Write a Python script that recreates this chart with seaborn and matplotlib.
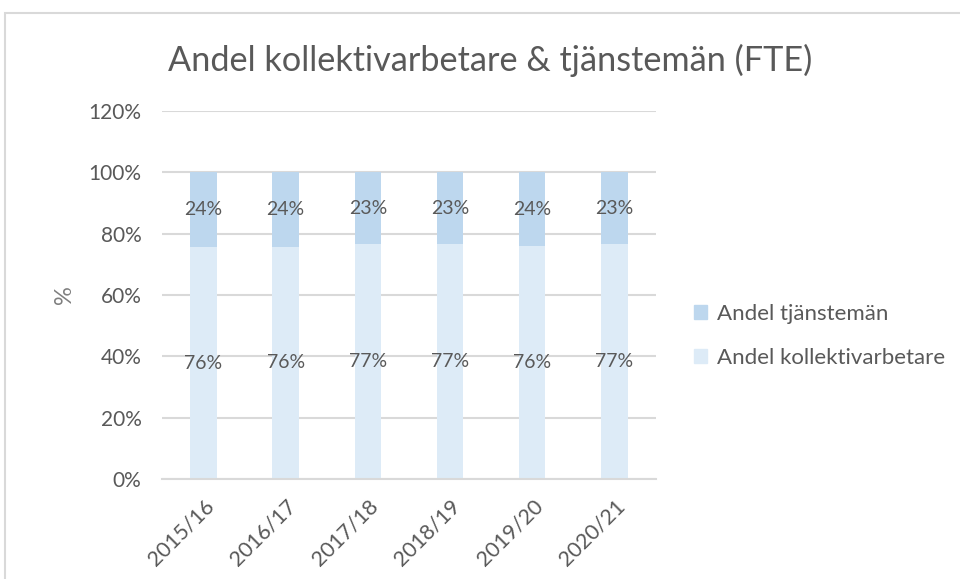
import matplotlib
matplotlib.use("Agg")
import matplotlib.pyplot as plt
from matplotlib.patches import Rectangle, Patch
import pandas as pd
import seaborn as sns

# data
years = ['2015/16', '2016/17', '2017/18', '2018/19', '2019/20', '2020/21']
kollektiv = [75.6, 75.8, 76.6, 76.7, 75.9, 76.6]   # Andel kollektivarbetare
tjansteman = [24.4, 24.2, 23.4, 23.3, 24.1, 23.4]  # Andel tjänstemän

col_tj = '#BDD7EE'
col_ko = '#DDEBF7'
txt = '#595959'
grid = '#D9D9D9'

sns.set_theme(style='white')
plt.rcParams['font.family'] = ['Lato', 'DejaVu Sans']

df = pd.DataFrame({'year': years, 'kollektiv': kollektiv, 'tjansteman': tjansteman})
df['total'] = df['kollektiv'] + df['tjansteman']

fig = plt.figure(figsize=(9.6, 5.79), dpi=100)
ax = fig.add_axes([0.169, 0.1727, 0.514, 0.6356])

# outer chart frame
fig.patches.append(Rectangle((5 / 960, -0.1), 1.2, 1 - 13 / 579 + 0.1, transform=fig.transFigure,
                             fill=False, edgecolor=grid, lw=1.5))

sns.barplot(data=df, x='year', y='total', color=col_tj, width=0.32, saturation=1,
            linewidth=0, ax=ax, zorder=2)
sns.barplot(data=df, x='year', y='kollektiv', color=col_ko, width=0.32, saturation=1,
            linewidth=0, ax=ax, zorder=2)

for i, (lo, hi) in enumerate(zip(kollektiv, tjansteman)):
    ax.text(i, lo / 2, f'{round(lo):.0f}%', ha='center', va='center', color=txt, fontsize=14, zorder=3)
    ax.text(i, lo + hi / 2, f'{round(hi):.0f}%', ha='center', va='center', color=txt, fontsize=14, zorder=3)

ax.set_ylim(0, 120)
ax.set_xlim(-0.5, len(years) - 0.5)
ax.set_yticks(range(0, 121, 20))
ax.set_yticklabels([f'{v}%' for v in range(0, 121, 20)], color=txt, fontsize=15)
ax.set_xticks(range(len(years)))
ax.set_xticklabels(years, rotation=45, ha='right', rotation_mode='anchor', color=txt, fontsize=15.5)
ax.tick_params(axis='y', length=0, pad=15)
ax.tick_params(axis='x', length=0, pad=12)
ax.yaxis.grid(True, color=grid, lw=1.5, zorder=0)
ax.set_axisbelow(True)
for s in ['top', 'right', 'left']:
    ax.spines[s].set_visible(False)
ax.spines['bottom'].set_color(grid)
ax.spines['bottom'].set_linewidth(1.5)
ax.set_xlabel('')
ax.set_ylabel('%', color='#7f7f7f', fontsize=17, labelpad=10)

fig.text(0.511, 0.895, 'Andel kollektivarbetare & tjänstemän (FTE)', ha='center', va='center',
         color=txt, fontsize=24.7)

handles = [Patch(color=col_tj, label='Andel tjänstemän'),
           Patch(color=col_ko, label='Andel kollektivarbetare')]
fig.legend(handles=handles, loc='center left', bbox_to_anchor=(0.702, 0.42), frameon=False,
           fontsize=16, labelcolor=txt, handlelength=0.6, handleheight=0.6, handletextpad=0.45,
           labelspacing=1.1)

fig.savefig('out.png', dpi=100)
